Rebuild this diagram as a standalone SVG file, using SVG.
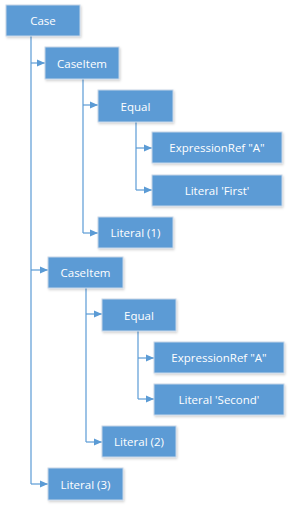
<svg xmlns="http://www.w3.org/2000/svg" width="293" height="506" viewBox="0 0 293 506">
<defs>
<marker id="arr" viewBox="0 0 8 8" refX="8" refY="4" markerWidth="8" markerHeight="8" markerUnits="userSpaceOnUse" orient="auto">
<path d="M0,0.5 L8,4 L0,7.5 Z" fill="#5b9bd5"/>
</marker>
<filter id="sh" x="-10%" y="-10%" width="130%" height="140%">
<feDropShadow dx="1" dy="1.5" stdDeviation="1" flood-color="#000" flood-opacity="0.18"/>
</filter>
</defs>
<style>
.box{fill:#5b9bd5;stroke:#c6d6e8;stroke-width:1;filter:url(#sh)}
.lbl{fill:#fff;font-family:"Open Sans","Noto Sans",sans-serif;font-size:11.5px;text-anchor:middle;dominant-baseline:central}
.c{fill:none;stroke:#5b9bd5;stroke-width:1.2}
.a{fill:none;stroke:#5b9bd5;stroke-width:1.2;marker-end:url(#arr)}
</style>
<rect width="293" height="506" fill="#fff"/>
<g id="connectors">
<path class="c" d="M31,36 V484"/>
<path class="a" d="M31,63 H45"/>
<path class="a" d="M31,270 H48"/>
<path class="a" d="M31,484 H48"/>
<path class="c" d="M83,79 V233"/>
<path class="a" d="M83,105 H98"/>
<path class="a" d="M83,233 H98"/>
<path class="c" d="M136,122 V190"/>
<path class="a" d="M136,148 H152"/>
<path class="a" d="M136,190 H152"/>
<path class="c" d="M86,288 V442"/>
<path class="a" d="M86,314 H102"/>
<path class="a" d="M86,442 H102"/>
<path class="c" d="M138,331 V399"/>
<path class="a" d="M138,358 H154"/>
<path class="a" d="M138,399 H154"/>
</g>
<g id="case"><rect class="box" x="6" y="5" width="74" height="31"/><text class="lbl" x="43" y="20.5">Case</text></g>
<g id="caseitem1"><rect class="box" x="45" y="47" width="74" height="32"/><text class="lbl" x="82" y="63">CaseItem</text></g>
<g id="equal1"><rect class="box" x="98" y="90" width="75" height="32"/><text class="lbl" x="135.5" y="106">Equal</text></g>
<g id="exprref1"><rect class="box" x="152" y="132" width="130" height="31"/><text class="lbl" x="217" y="147.5">ExpressionRef "A"</text></g>
<g id="litfirst"><rect class="box" x="152" y="175" width="130" height="31"/><text class="lbl" x="217" y="190.5">Literal 'First'</text></g>
<g id="lit1"><rect class="box" x="98" y="217" width="75" height="31"/><text class="lbl" x="135.5" y="232.5">Literal (1)</text></g>
<g id="caseitem2"><rect class="box" x="48" y="257" width="75" height="31"/><text class="lbl" x="85.5" y="272.5">CaseItem</text></g>
<g id="equal2"><rect class="box" x="102" y="299" width="74" height="32"/><text class="lbl" x="139" y="315">Equal</text></g>
<g id="exprref2"><rect class="box" x="154" y="342" width="130" height="31"/><text class="lbl" x="219" y="357.5">ExpressionRef "A"</text></g>
<g id="litsecond"><rect class="box" x="154" y="384" width="130" height="31"/><text class="lbl" x="219" y="399.5">Literal 'Second'</text></g>
<g id="lit2"><rect class="box" x="102" y="426" width="74" height="31"/><text class="lbl" x="139" y="441.5">Literal (2)</text></g>
<g id="lit3"><rect class="box" x="48" y="468" width="75" height="32"/><text class="lbl" x="85.5" y="484">Literal (3)</text></g>
</svg>
